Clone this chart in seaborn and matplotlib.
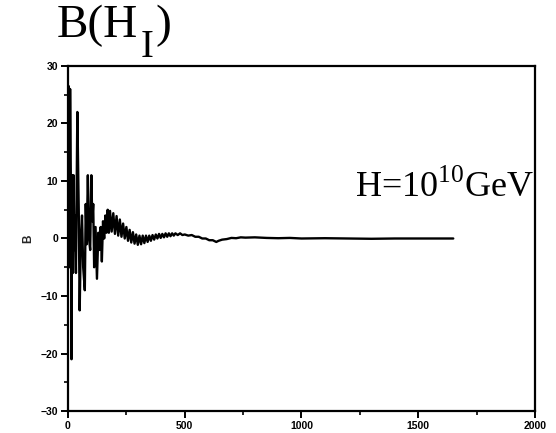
import matplotlib
matplotlib.use("Agg")
import matplotlib.pyplot as plt
import numpy as np
import pandas as pd
import seaborn as sns
from matplotlib.ticker import MultipleLocator

# values
x_early = [0, 3, 6, 9, 12, 15, 18, 21, 24, 27, 30, 34, 40, 46, 50, 55, 60, 65,
           72, 76, 80, 85, 90, 95, 100, 104, 108, 112, 118, 124, 130, 135, 140,
           145, 150, 155, 160, 165, 170, 175]
b_early = [0, 26.5, -5, 26, 11, -21, 11, -6, 11, -2, 4, -6, 22, 5, -12.5, 0, 4, -5,
           -9, 6, -1, 11, 0, -2, 11, 3, 6, -5, 2, -7, 1, -2, 2,
           -4, 3, 0, 4, 1, 5, 1]

x_ring = [180, 187, 194, 201, 208, 215, 222, 229, 236, 243, 250, 257, 264, 271,
          278, 285, 292, 299, 306, 313, 320, 327, 334, 341, 348, 355, 362, 369,
          376, 383, 390, 397, 404, 411, 418, 425, 432, 439, 446, 453, 460, 470,
          480, 490]
b_ring = [4.8, 1.2, 4.4, 0.8, 3.9, 0.5, 3.3, 0.3, 2.6, 0.0, 2.0, -0.4, 1.5, -0.7,
          1.1, -0.9, 0.7, -1.1, 0.5, -1.0, 0.5, -0.8, 0.5, -0.6, 0.5, -0.4, 0.6, -0.2,
          0.7, 0.0, 0.8, 0.1, 0.8, 0.2, 0.9, 0.3, 0.9, 0.4, 0.9, 0.5, 0.9, 0.6,
          0.9, 0.6]

x_tail = [500, 515, 530, 545, 560, 575, 590, 605, 620, 635, 645, 660, 680, 700,
          720, 740, 760, 800, 850, 900, 950, 1000, 1100, 1200, 1300, 1400, 1500, 1650]
b_tail = [0.7, 0.5, 0.6, 0.3, 0.3, 0.0, 0.0, -0.3, -0.3, -0.6, -0.4, -0.2, -0.1, 0.1,
          0.05, 0.2, 0.15, 0.2, 0.1, 0.05, 0.1, 0.0, 0.05, 0.0, -0.05, 0.0, 0.0, 0.0]

x_ticks = [0, 500, 1000, 1500, 2000]
y_ticks = [-30, -20, -10, 0, 10, 20, 30]

df = pd.DataFrame({"t": x_early + x_ring + x_tail,
                   "B": b_early + b_ring + b_tail})

sns.set_style("ticks")
plt.rcParams["mathtext.fontset"] = "custom"
plt.rcParams["mathtext.rm"] = "Liberation Serif"
plt.rcParams["text.color"] = "black"
plt.rcParams["axes.edgecolor"] = "black"
plt.rcParams["xtick.color"] = "black"
plt.rcParams["ytick.color"] = "black"

W, H = 556, 433
fig = plt.figure(figsize=(W / 100, H / 100), dpi=100, facecolor="white")
ax = fig.add_axes([0.1223, 0.0508, 0.8399, 0.7968])

sns.lineplot(data=df, x="t", y="B", ax=ax, color="black", linewidth=1.7,
             estimator=None)

ax.set_xlim(0, 2000)
ax.set_ylim(-30, 30)
ax.set_xticks(x_ticks)
ax.set_yticks(y_ticks)
ax.xaxis.set_minor_locator(MultipleLocator(250))
ax.yaxis.set_minor_locator(MultipleLocator(5))

for s in ax.spines.values():
    s.set_linewidth(1.6)
    s.set_visible(True)
ax.tick_params(which="major", direction="out", length=5, width=1.4,
               labelsize=7.5, pad=2)
ax.tick_params(which="minor", direction="out", length=3, width=1.2)
for lab in ax.get_xticklabels() + ax.get_yticklabels():
    lab.set_fontfamily("Liberation Sans")
    lab.set_fontweight("bold")

ax.set_xlabel("")
ax.set_ylabel("B", fontsize=8.5, fontweight="bold", family="Liberation Sans",
              labelpad=5)

# title B(H_I) with a large, lowered subscript, built from three pieces
serif = "Liberation Serif"
renderer = fig.canvas.get_renderer()
t1 = fig.text(57 / W, 1 - 37 / H, "B(H", fontsize=34, family=serif,
              ha="left", va="baseline")
x1 = t1.get_window_extent(renderer).x1
t2 = fig.text((x1 + 2) / W, 1 - 57 / H, "I", fontsize=28, family=serif,
              ha="left", va="baseline")
x2 = t2.get_window_extent(renderer).x1
fig.text((x2 + 2) / W, 1 - 37 / H, ")", fontsize=34, family=serif,
         ha="left", va="baseline")

ax.text(0.997, 0.62, r"H=10$^{10}$GeV", transform=ax.transAxes, fontsize=26,
        family=serif, ha="right", va="baseline")

fig.savefig("out.png", dpi=100, facecolor="white")
